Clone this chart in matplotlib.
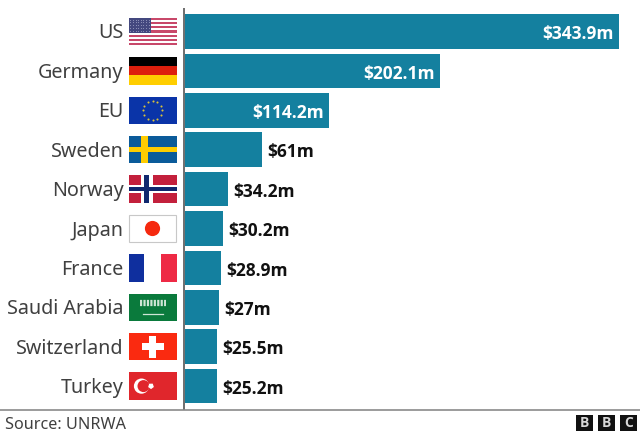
import numpy as np
import matplotlib
matplotlib.use("Agg")
import matplotlib.pyplot as plt
from matplotlib.patches import Rectangle, Circle, RegularPolygon

countries = ["US", "Germany", "EU", "Sweden", "Norway", "Japan", "France",
             "Saudi Arabia", "Switzerland", "Turkey"]
values = [343.9, 202.1, 114.2, 61, 34.2, 30.2, 28.9, 27, 25.5, 25.2]
value_labels = ["$343.9m", "$202.1m", "$114.2m", "$61m", "$34.2m", "$30.2m",
                "$28.9m", "$27m", "$25.5m", "$25.2m"]
inside_count = 3
source_text = "Source: UNRWA"

BAR = "#14809f"
W, H = 640, 432
plt.rcParams["font.family"] = ["Noto Sans", "DejaVu Sans"]
BOLD_FAMILY = ["Open Sans", "Liberation Sans", "DejaVu Sans"]

fig = plt.figure(figsize=(W / 100, H / 100), dpi=100, facecolor="white")

# Overlay in pixel coordinates for flags, rules and footer
ov = fig.add_axes([0, 0, 1, 1], zorder=3)
ov.set_xlim(0, W)
ov.set_ylim(H, 0)
ov.axis("off")
ov.patch.set_alpha(0)

# Bar axes: zero sits on the left edge, rows run top to bottom
X0, X1 = 185.0, 619.0
Y_TOP, Y_BOT = 11.8, 405.8
ax = fig.add_axes([X0 / W, 1 - Y_BOT / H, (X1 - X0) / W, (Y_BOT - Y_TOP) / H], zorder=2)
ax.set_xlim(0, values[0])
ax.set_ylim(len(values) - 0.5, -0.5)
ax.axis("off")

y = np.arange(len(values))
ax.barh(y, values, height=0.875, color=BAR, linewidth=0)


def row_y(i):
    return ax.transData.transform((0, i))[1] * -1 + H


def rect(x, y0, w, h, c, **kw):
    ov.add_patch(Rectangle((x, y0), w, h, facecolor=c, edgecolor="none", **kw))


def flag_us(x, t, w, h):
    rect(x, t, w, h, "white")
    n = 13
    for k in range(0, n, 2):
        rect(x, t + k * h / n, w, h / n, "#c8486a")
    rect(x, t, w * 0.47, h * 7 / 13, "#44487f")
    for r in range(5):
        for c in range(8):
            ov.plot(x + 1.8 + c * 2.6, t + 1.8 + r * 2.8, "o", ms=0.7, color="#8f92b8", mew=0)


def flag_de(x, t, w, h):
    for k, c in enumerate(["#000000", "#dd1f0d", "#ffce00"]):
        rect(x, t + k * h / 3, w, h / 3, c)


def flag_eu(x, t, w, h):
    rect(x, t, w, h, "#0a34a8")
    cx, cy = x + w / 2, t + h / 2
    for a in np.arange(0, 360, 30):
        ov.plot(cx + 9.5 * np.cos(np.radians(a)), cy + 9.5 * np.sin(np.radians(a)),
                "o", ms=1.5, color="#d8c23a", mew=0)


def flag_se(x, t, w, h):
    rect(x, t, w, h, "#0b5b9a")
    rect(x + w * 0.27, t, w * 0.13, h, "#fecc00")
    rect(x, t + h * 0.41, w, h * 0.18, "#fecc00")


def flag_no(x, t, w, h):
    rect(x, t, w, h, "#c3203c")
    rect(x + w * 0.25, t, w * 0.25, h, "white")
    rect(x, t + h * 0.36, w, h * 0.28, "white")
    rect(x + w * 0.32, t, w * 0.11, h, "#10286e")
    rect(x, t + h * 0.43, w, h * 0.14, "#10286e")


def flag_jp(x, t, w, h):
    ov.add_patch(Rectangle((x + 0.5, t), w - 1.5, h, facecolor="white", edgecolor="#c8c8c8", linewidth=0.8))
    ov.add_patch(Circle((x + w / 2, t + h / 2), 7.6, facecolor="#f5290f", edgecolor="none"))


def flag_fr(x, t, w, h):
    rect(x, t, w * 0.32, h, "#0f2f9e")
    rect(x + w * 0.68, t, w * 0.32, h, "#ee2a45")


def flag_sa(x, t, w, h):
    rect(x, t, w, h, "#0a7a3c")
    ov.plot([x + 11, x + 37], [t + 9.5, t + 9.5], color="#cfe6d6", lw=4.5, ls=(0, (0.35, 0.2)))
    ov.plot([x + 14, x + 34], [t + 20.5, t + 20.5], color="#cfe6d6", lw=0.9)


def flag_ch(x, t, w, h):
    rect(x, t, w, h, "#fa2a10")
    cx, cy = x + w / 2, t + h / 2
    rect(cx - 11, cy - 3.5, 22, 7, "white")
    rect(cx - 3.5, cy - 11, 7, 22, "white")


def flag_tr(x, t, w, h):
    rect(x, t, w, h, "#e0262c")
    cx, cy = x + 13, t + h / 2
    ov.add_patch(Circle((cx, cy), 7.6, facecolor="white", edgecolor="none"))
    ov.add_patch(Circle((cx + 2, cy), 6.0, facecolor="#e0262c", edgecolor="none"))
    ov.add_patch(RegularPolygon((cx + 9.5, cy), 5, radius=3.0, orientation=np.pi / 2 * 3 + 0.3,
                                facecolor="white", edgecolor="none"))


flags = [flag_us, flag_de, flag_eu, flag_se, flag_no, flag_jp, flag_fr, flag_sa, flag_ch, flag_tr]

FLAG_X, FLAG_W, FLAG_H = 128.5, 48, 27.5
for i, (name, draw) in enumerate(zip(countries, flags)):
    cy = row_y(i)
    draw(FLAG_X, cy - FLAG_H / 2, FLAG_W, FLAG_H)
    ov.text(123.5, cy - 0.5, name, ha="right", va="center_baseline", fontsize=14.2,
            color="#404040")

# Value labels: inside the long bars, just past the end of the short ones
for i, (v, lab) in enumerate(zip(values, value_labels)):
    if i < inside_count:
        ax.annotate(lab, (v, i), xytext=(-4.0, -0.5), textcoords="offset points",
                    ha="right", va="center_baseline", color="white",
                    fontsize=12.5, fontweight="bold", family=BOLD_FAMILY)
    else:
        ax.annotate(lab, (v, i), xytext=(3.6, -0.5), textcoords="offset points",
                    ha="left", va="center_baseline", color="#111111",
                    fontsize=12.5, fontweight="bold", family=BOLD_FAMILY)

# Baseline of the bars and footer rule
ov.plot([183.5, 183.5], [8, 410], color="#555555", lw=1.2, solid_capstyle="butt")
ov.plot([0, W], [410, 410], color="#8a8a8a", lw=1.2, solid_capstyle="butt")
ov.text(5, 423, source_text, ha="left", va="center_baseline", fontsize=11.7, color="#404040")

# Broadcaster mark
for bx, letter in zip([576, 598, 620], "BBC"):
    rect(bx, 415, 17, 16, "#111111")
    ov.text(bx + 8.5, 423.2, letter, ha="center", va="center", fontsize=10,
            fontweight="bold", family=BOLD_FAMILY, color="#d8d8d8")

fig.savefig("out.png", dpi=100)
